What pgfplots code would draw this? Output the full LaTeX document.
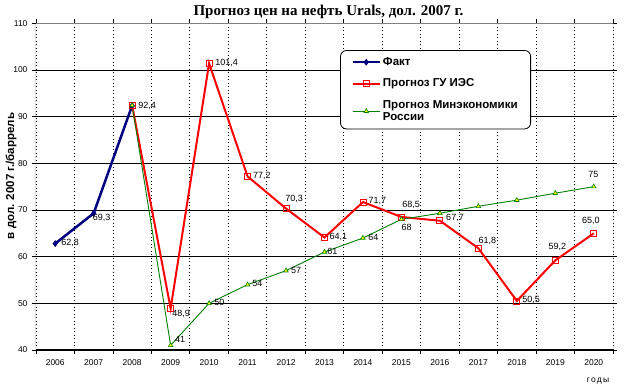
\documentclass[border=0pt]{standalone}
\usepackage{fontspec}
\setmainfont{Liberation Sans}
\newfontfamily\titlefont{Liberation Serif}
\usepackage{pgfplots}
\pgfplotsset{compat=1.18}
\usepackage{pgfplotstable}
\definecolor{navy}{RGB}{0,0,128}
\definecolor{xlred}{RGB}{255,0,0}
\definecolor{xlgreen}{RGB}{0,128,0}
\definecolor{xlyellow}{RGB}{255,255,0}
\definecolor{xlgray}{RGB}{128,128,128}

\pgfplotstableread{
x y lab dx dy
0 62.8 62,8 14.8 1
1 69.3 69,3 8 -5
2 92.4 92,4 15 0
}\fakt

\pgfplotstableread{
x y lab dx dy
2 92.4 {} 0 0
3 48.9 48,9 10.4 -5.5
4 101.4 101,4 17.6 0.7
5 77.2 77,2 14.4 0.7
6 70.3 70,3 8 9.3
7 64.1 64,1 13.8 0.8
8 71.7 71,7 14.3 1.3
9 68.5 68,5 9.6 12
10 67.7 67,7 15.1 2.4
11 61.8 61,8 8.9 7.6
12 50.5 50,5 14.2 1
13 59.2 59,2 2 13
14 65.0 65,0 -3 12.6
}\gu

\pgfplotstableread{
x y lab dx dy
2 92.4 {} 0 0
3 41 41 9.4 6
4 50 50 10.2 0.6
5 54 54 9.7 1.4
6 57 57 10 0.7
7 61 61 7.8 0.3
8 64 64 10.3 0.7
9 68 68 5.3 -8
10 69.3 {} 0 0
11 70.8 {} 0 0
12 72.1 {} 0 0
13 73.6 {} 0 0
14 75 75 -0.4 12.7
}\minek

\pgfplotsset{
  lbl/.style={
    nodes near coords,
    point meta=explicit symbolic,
    visualization depends on={\thisrow{dx} \as \dx},
    visualization depends on={\thisrow{dy} \as \dy},
    nodes near coords style={anchor=center, xshift=\dx pt, yshift=\dy pt,
      font=\fontsize{9}{10}\selectfont, text=black, inner sep=0pt},
  },
}

\begin{document}
\begin{tikzpicture}
\useasboundingbox (-36pt,-40pt) rectangle (592pt,350pt);
\fill[white] (-36pt,-40pt) rectangle (592pt,350pt);
\begin{axis}[
  at={(0pt,0pt)}, anchor=south west,
  scale only axis, width=577pt, height=326.7pt,
  xmin=-0.5, xmax=14.5, ymin=40, ymax=110,
  xtick={0,...,14},
  xticklabels={2006,2007,2008,2009,2010,2011,2012,2013,2014,2015,2016,2017,2018,2019,2020},
  minor xtick={-0.5,0.5,...,14.5},
  major x tick style={draw=none},
  minor x tick style={black, line width=0.8pt},
  minor tick length=4pt,
  ytick={40,50,...,110},
  y tick style={black, line width=0.8pt},
  major tick length=4pt,
  tick align=outside,
  ymajorgrids, xminorgrids,
  major y grid style={black, line width=0.9pt},
  minor x grid style={black, line width=0.8pt, dash pattern=on 1pt off 2.5pt},
  axis line style={draw=none},
  /pgf/number format/assume math mode=true,
  tick label style={font=\fontsize{8.5}{10}\selectfont},
  yticklabel style={xshift=-1pt},
  xticklabel style={yshift=-2pt},
  legend cell align=left,
  legend image code/.code={\draw[mark repeat=2,mark phase=2,#1] plot coordinates {(0pt,0pt) (13.5pt,0pt) (27pt,0pt)};},
  legend style={at={(0.527,0.918)}, anchor=north west, draw=black, line width=0.8pt,
    rounded corners=6pt, font=\bfseries\fontsize{11.5}{12}\selectfont,
    inner xsep=11pt, inner ysep=5pt, row sep=8pt,
    cells={anchor=west, align=left}},
]
\addplot[navy, line width=2.5pt, mark=diamond*, mark size=3pt,
  mark options={fill=navy, line width=0.5pt}, lbl]
  table[x=x, y=y, meta=lab]{\fakt};
\addlegendentry{Факт}
\addplot[xlred, line width=2pt, mark=square, mark size=3pt,
  mark options={line width=0.9pt}, lbl]
  table[x=x, y=y, meta=lab]{\gu};
\addlegendentry{Прогноз ГУ ИЭС}
\addplot[xlgreen, line width=0.9pt, mark=triangle*, mark size=2.6pt,
  mark options={fill=xlyellow, draw=xlgreen, line width=0.6pt}, lbl]
  table[x=x, y=y, meta=lab]{\minek};
\addlegendentry{Прогноз Минэкономики\\России}
\draw[xlgray, line width=1pt] (rel axis cs:0,1) -- (rel axis cs:1,1) -- (rel axis cs:1,0);
\draw[black, line width=1pt] (rel axis cs:0,1) -- (rel axis cs:0,0) -- (rel axis cs:1,0);
\end{axis}
\node[font=\titlefont\bfseries\fontsize{15}{17}\selectfont] at (292.5pt,338pt) {Прогноз цен на нефть Urals, дол. 2007 г.};
\node[rotate=90, font=\bfseries\fontsize{11.5}{13}\selectfont] at (-25pt,174pt) {в дол. 2007 г./баррель};
\node[font=\addfontfeatures{LetterSpace=15}\fontsize{8.5}{10}\selectfont] at (562pt,-30.7pt) {годы};
\end{tikzpicture}
\end{document}
